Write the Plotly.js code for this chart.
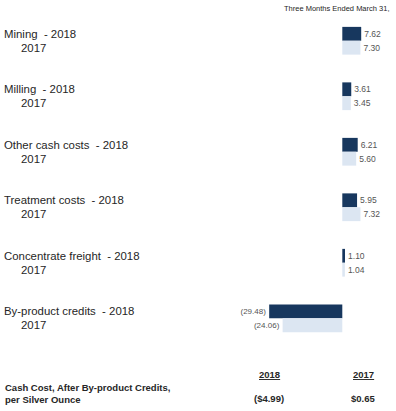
<!DOCTYPE html>
<html>
<head>
<meta charset="utf-8">
<script src="https://cdn.plot.ly/plotly-3.0.1.min.js"></script>
<style>html,body{margin:0;padding:0;background:#fff;}#chart{width:396px;height:411px;}</style>
</head>
<body>
<div id="chart"></div>
<script>
const categories = ["Mining", "Milling", "Other cash costs", "Treatment costs", "Concentrate freight", "By-product credits"];
const values2018 = [7.62, 3.61, 6.21, 5.95, 1.10, -29.48];
const values2017 = [7.30, 3.45, 5.60, 7.32, 1.04, -24.06];
const yearLabels = ["2018", "2017"];
const totalLabel = ["Cash Cost, After By-product Credits,", "per Silver Ounce"];
const totals = ["($4.99)", "$0.65"];
const headerText = "Three Months Ended March 31,";

function fmt(v) { return v < 0 ? "(" + Math.abs(v).toFixed(2) + ")" : v.toFixed(2); }

const dark = "#17375e", light = "#dce6f2";
function valFont(vals) {
  return {family: "Liberation Sans, Arial, sans-serif", size: vals.map(function (v) { return v < 0 ? 8 : 8.5; }), color: "#555555"};
}

const traces = [
  {type: "bar", orientation: "h", name: yearLabels[0], y: categories, x: values2018,
   marker: {color: dark}, text: values2018.map(fmt), textposition: "outside",
   textfont: valFont(values2018), constraintext: "none", cliponaxis: false, hoverinfo: "none"},
  {type: "bar", orientation: "h", name: yearLabels[1], y: categories, x: values2017,
   marker: {color: light}, text: values2017.map(fmt), textposition: "outside",
   textfont: valFont(values2017), constraintext: "none", cliponaxis: false, hoverinfo: "none"}
];

const W = 396;
const catFont = {family: "Liberation Sans, Arial, sans-serif", size: 11.4, color: "#262626"};
const boldFont = {family: "Liberation Sans, Arial, sans-serif", size: 9.5, color: "#262626"};
const annotations = [];
categories.forEach(function (c) {
  annotations.push({xref: "paper", yref: "y", x: 2 / W, y: c, yshift: 7, xanchor: "left", yanchor: "middle",
    text: c + "\u00a0 - " + yearLabels[0], showarrow: false, font: catFont});
  annotations.push({xref: "paper", yref: "y", x: 19 / W, y: c, yshift: -7, xanchor: "left", yanchor: "middle",
    text: yearLabels[1], showarrow: false, font: catFont});
});
annotations.push({xref: "paper", yref: "paper", x: 391 / W, y: 1, yshift: 5, xanchor: "right", yanchor: "middle",
  text: headerText, showarrow: false, font: {family: "Liberation Sans, Arial, sans-serif", size: 7.5, color: "#262626"}});
// bottom summary table
annotations.push({xref: "paper", yref: "paper", x: 269.5 / W, y: 0, yshift: -28, xanchor: "center", yanchor: "middle",
  text: "<b><u>" + yearLabels[0] + "</u></b>", showarrow: false, font: boldFont});
annotations.push({xref: "paper", yref: "paper", x: 363 / W, y: 0, yshift: -28, xanchor: "center", yanchor: "middle",
  text: "<b><u>" + yearLabels[1] + "</u></b>", showarrow: false, font: boldFont});
annotations.push({xref: "paper", yref: "paper", x: 3 / W, y: 0, yshift: -41, xanchor: "left", yanchor: "middle",
  text: "<b>" + totalLabel[0] + "</b>", showarrow: false, font: boldFont});
annotations.push({xref: "paper", yref: "paper", x: 3 / W, y: 0, yshift: -53, xanchor: "left", yanchor: "middle",
  text: "<b>" + totalLabel[1] + "</b>", showarrow: false, font: boldFont});
annotations.push({xref: "paper", yref: "paper", x: 269 / W, y: 0, yshift: -52, xanchor: "center", yanchor: "middle",
  text: "<b>" + totals[0] + "</b>", showarrow: false, font: boldFont});
annotations.push({xref: "paper", yref: "paper", x: 363 / W, y: 0, yshift: -52, xanchor: "center", yanchor: "middle",
  text: "<b>" + totals[1] + "</b>", showarrow: false, font: boldFont});

const layout = {
  width: 396, height: 411,
  margin: {l: 0, r: 0, t: 13, b: 65, pad: 0},
  paper_bgcolor: "#ffffff", plot_bgcolor: "#ffffff",
  barmode: "group", bargap: 0.5, bargroupgap: 0,
  showlegend: false,
  xaxis: {range: [-138.0, 21.65], visible: false, fixedrange: true, zeroline: false},
  yaxis: {type: "category", range: [5.5, -0.5], visible: false, fixedrange: true},
  annotations: annotations
};

Plotly.newPlot("chart", traces, layout, {displayModeBar: false, staticPlot: true});
</script>
</body>
</html>
